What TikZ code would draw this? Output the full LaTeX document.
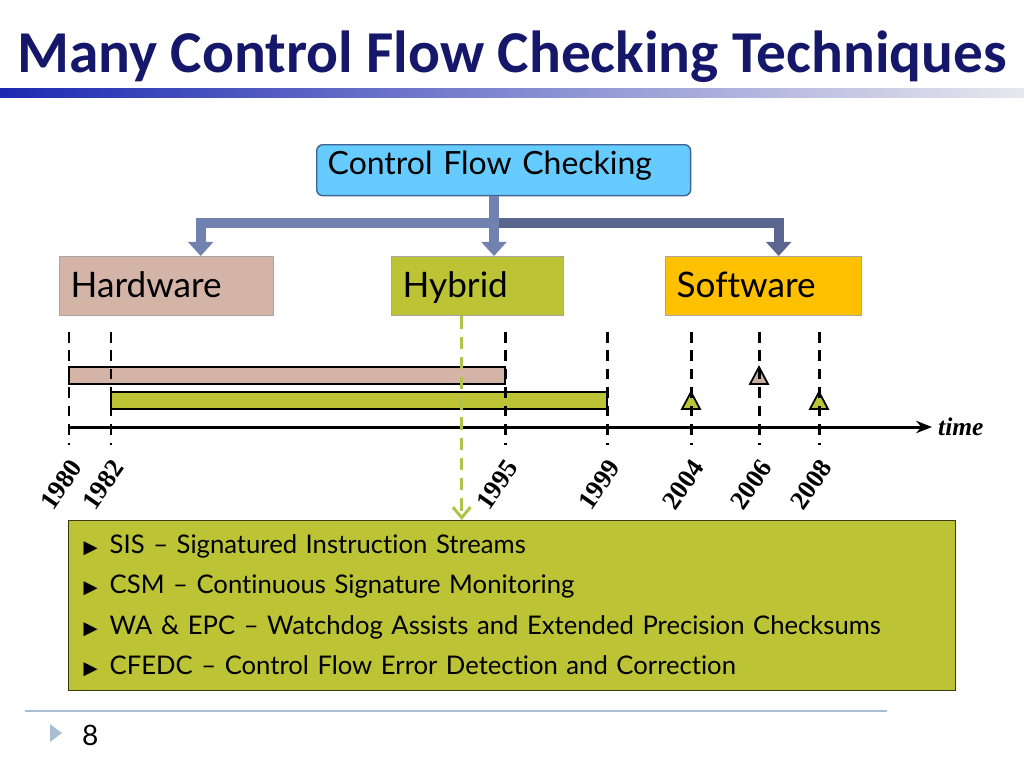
\documentclass[tikz,border=0pt]{standalone}
\usepackage{fontspec}
\setmainfont{Lato}[Ligatures={TeX,NoCommon}]
\newfontfamily\titlefont{Carlito}
\newfontfamily\yearfont{Liberation Serif}
\newfontfamily\symfont{DejaVu Sans}
\usetikzlibrary{calc,arrows.meta}
\definecolor{navy}{HTML}{15186A}
\definecolor{cfcblue}{HTML}{66CCFF}
\definecolor{cfcedge}{HTML}{41638F}
\definecolor{hwtan}{HTML}{D5B4A8}
\definecolor{hygreen}{HTML}{BCC435}
\definecolor{swgold}{HTML}{FFC000}
\definecolor{flowlight}{HTML}{7282B0}
\definecolor{flowdark}{HTML}{5A6590}
\definecolor{dashgreen}{HTML}{AFC447}
\definecolor{footblue}{HTML}{A8BED3}
\newcommand\itemmark{\makebox[0.52cm][l]{\symfont\fontsize{10.5}{10.5}\selectfont ▶}}

\begin{document}
\begin{tikzpicture}[x=0.02cm, y=-0.02cm,
  box/.style={draw=gray!70, line width=0.8pt, minimum height=1.18cm, inner xsep=0.22cm, text height=18pt, text depth=5pt, anchor=north west, align=left, font=\fontsize{20}{22}\selectfont},
  flow/.style={line width=5.5pt, draw=flowlight, -{Triangle[width=14pt,length=8pt]}},
  tick/.style={line width=1.7pt, dash pattern=on 6pt off 4.5pt},
  year/.style={rotate=55, anchor=east, font=\yearfont\bfseries\fontsize{15}{15}\selectfont},
  bar/.style={draw, line width=1.2pt},
  marker/.style={draw, line width=1pt, line join=miter}]
\useasboundingbox (0,0) rectangle (1024,768);

% title
\node[anchor=base, text=navy, font=\titlefont\bfseries\fontsize{33.8}{34}\selectfont] (title) at (512,72) {Many Control Flow Checking Techniques};
\shade[left color={rgb,255:red,28;green,42;blue,178}, middle color={rgb,255:red,160;green,165;blue,220}, right color={rgb,255:red,232;green,232;blue,238}] (0,88) rectangle (1024,97);

% tree
\node[box, draw=cfcedge, fill=cfcblue, rounded corners=3.5pt, minimum height=1.02cm, inner xsep=0.22cm, text width=7.04cm, text height=12pt, text depth=7.4pt, font=\fontsize{18.2}{20}\selectfont] (cfc) at (316,144) {Control Flow Checking};
\node[box, fill=hwtan, text width=3.84cm] (hw) at (59,256) {Hardware};
\node[box, fill=hygreen, text width=3cm] (hy) at (391,256) {Hybrid};
\node[box, fill=swgold, text width=3.48cm] (sw) at (665,256) {Software};

\coordinate (j) at (494,223);
\draw[flow, draw=flowdark] (j) -| ($(sw.north)+(15,0)$);
\draw[flow] (j) -| ($(hw.north)+(34,0)$);
\draw[flow] (cfc.south -| j) -- (hy.north -| j);

% timeline
\draw[bar, fill=hwtan] (69,367) rectangle (505,384);
\draw[bar, fill=hygreen] (111,392) rectangle (607,409);
\foreach \x/\y/\c in {691/401/hygreen, 759/376/hwtan!85!gray, 819/401/hygreen}{
\draw[marker, fill=\c] (\x-9,\y+8) -- (\x+9,\y+8) -- (\x,\y-9) -- cycle;
}
\draw[line width=1.7pt, -{Stealth[length=9pt,width=7pt]}] (69,427) -- (932,427) coordinate (tend);
\node[anchor=west, font=\yearfont\bfseries\itshape\fontsize{14.5}{14.5}\selectfont] (time) at (tend) {time};
\foreach \x/\yr in {69/1980, 111/1982, 505/1995, 607/1999, 691/2004, 759/2006, 819/2008}{
\draw[tick] (\x,332) -- (\x,445);
\node[year] at (\x+11,458) {\yr};
}

% techniques
\node[anchor=north west, draw=black!70!hygreen, line width=0.8pt, fill=hygreen, inner xsep=0.3cm, text width=17.14cm, minimum height=3.4cm, align=left, font=\fontsize{14.6}{23.07}\selectfont] (lst) at (68,520) {%
\itemmark SIS – Signatured Instruction Streams\\
\itemmark CSM – Continuous Signature Monitoring\\
\itemmark WA \& EPC – Watchdog Assists and Extended Precision Checksums\\
\itemmark CFEDC – Control Flow Error Detection and Correction};
\coordinate (d) at ($(hy.south)+(-16,0)$);
\draw[dashgreen, line width=1.7pt, dash pattern=on 7pt off 4.5pt, -{Straight Barb[length=6pt,width=10pt]}] (d) -- (d |- lst.north);

% footer
\draw[footblue, line width=1pt] (25,711) -- (887,711);
\fill[footblue] (50,724) -- (62,733) -- (50,742) -- cycle;
\node[anchor=west, font=\fontsize{16}{16}\selectfont] (pg) at (76,735) {8};
\end{tikzpicture}
\end{document}
